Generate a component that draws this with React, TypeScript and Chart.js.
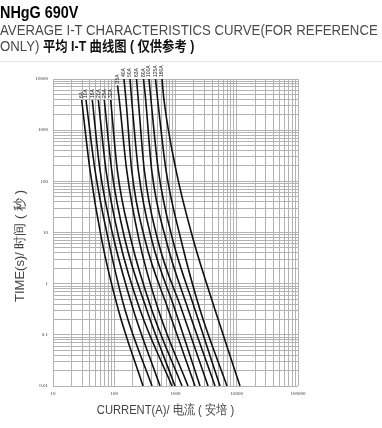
import React, { useEffect, useRef } from 'react';
import { Chart, registerables } from 'chart.js';

Chart.register(...registerables);

// ---- data ----
const ratingLabels = ['6A', '10A', '16A', '20A', '25A', '32A', '35A', '40A', '50A', '63A', '80A', '100A', '125A', '160A'];
// pre-arcing time rows (s) shared by all curves; null = curve has no point at that time
const timeRows = [10000, 7500, 3890, 166, 7.2, 0.31, 0.01];
const c6A = [null, null, 29.4, 40.2, 62.4, 116.5, 294.8];
const c10A = [null, null, 34.6, 48.5, 80, 149.8, 413.4];
const c16A = [null, null, 43.8, 58.5, 99, 204.6, 558.5];
const c20A = [null, null, 54.9, 73.3, 121, 263.3, 877];
const c25A = [null, null, 68.8, 90.9, 149.8, 338.7, 981];
const c32A = [null, null, 87.5, 112.2, 187.7, 408.7, 1277];
const c35A = [null, 113, 120.9, 159.7, 253.6, 524, 1600];
const c40A = [144, null, 155.5, 192.7, 317.7, 762.8, 2082];
const c50A = [180.7, null, 192.7, 247, 408.7, 981, 2512];
const c63A = [230.8, null, 247, 309.5, 512, 1262, 3394];
const c80A = [300.4, null, 326, 408.7, 699.6, 1618, 4415];
const c100A = [369, null, 398, 524, 900, 2082, 5326];
const c125A = [471.6, null, 512, 699.6, 1229, 2512, 6932];
const c160A = [602, null, 649, 1019, 1953, 4415, 11300];
const curveCurrents = [c6A, c10A, c16A, c20A, c25A, c32A, c35A, c40A, c50A, c63A, c80A, c100A, c125A, c160A];

const yTickLabels = ['0.01', '0.1', '1', '10', '100', '1000', '10000'];
const xTickLabels = ['10', '100', '1000', '10000', '100000'];

const xTitle = 'CURRENT(A)/ 电流 ( 安培 )';
const yTitle = 'TIME(s)/ 时间 ( 秒 )';

function logTicks(minExp: number, maxExp: number) {
  const out: { value: number }[] = [];
  for (let e = minExp; e < maxExp; e++) {
    for (let m = 1; m <= 9; m++) {
      out.push({ value: parseFloat((m * Math.pow(10, e)).toPrecision(6)) });
    }
  }
  out.push({ value: parseFloat(Math.pow(10, maxExp).toPrecision(6)) });
  return out;
}

function decadeIndex(v: number, minExp: number) {
  const l = Math.log10(v);
  const r = Math.round(l);
  if (Math.abs(l - r) < 1e-6) return r - minExp;
  return -1;
}

const annotate = {
  id: 'annotate',
  afterDraw(chart: any) {
    const ctx = chart.ctx;
    const area = chart.chartArea;
    ctx.save();
    ctx.font = '5px "Liberation Sans", Arial, sans-serif';
    ctx.fillStyle = '#222';
    ctx.textAlign = 'left';
    ctx.textBaseline = 'middle';
    chart.data.datasets.forEach((ds: any, i: number) => {
      const meta = chart.getDatasetMeta(i);
      const p = meta.data[0];
      if (!p) return;
      ctx.save();
      ctx.translate(p.x, p.y - 2);
      ctx.rotate(-Math.PI / 2);
      ctx.fillText(ratingLabels[i], 0, 0);
      ctx.restore();
    });
    ctx.font = '13px "Liberation Sans", Arial, sans-serif';
    ctx.fillStyle = '#444';
    ctx.textAlign = 'center';
    ctx.textBaseline = 'middle';
    ctx.save();
    ctx.translate(area.left + 112.5, area.bottom + 24);
    ctx.scale(0.86, 1);
    ctx.fillText(xTitle, 0, 0);
    ctx.restore();
    ctx.save();
    ctx.translate(area.left - 33, area.top + 167);
    ctx.rotate(-Math.PI / 2);
    ctx.fillText(yTitle, 0, 0);
    ctx.restore();
    ctx.restore();
  },
};

export default function App() {
  const ref = useRef<HTMLCanvasElement | null>(null);

  useEffect(() => {
    if (!ref.current) return;
    const datasets = curveCurrents.map((cur, i) => ({
      label: ratingLabels[i],
      data: timeRows
        .map((t, k) => (cur[k] == null ? null : { x: cur[k] as number, y: t }))
        .filter((p) => p !== null),
      borderColor: '#111',
      borderWidth: 1.6,
      pointRadius: 0,
      fill: false,
      cubicInterpolationMode: 'monotone' as const,
    }));

    const chart = new Chart(ref.current, {
      type: 'line',
      data: { datasets: datasets as any },
      plugins: [annotate],
      options: {
        responsive: false,
        animation: false,
        layout: { padding: { left: 0, right: 84, top: 79, bottom: 22 } },
        plugins: {
          legend: { display: false },
          tooltip: { enabled: false },
          title: { display: false },
        },
        scales: {
          x: {
            type: 'logarithmic',
            min: 10,
            max: 100000,
            afterBuildTicks: (s: any) => {
              s.ticks = logTicks(1, 5);
            },
            afterFit: (s: any) => {
              s.height = 20;
            },
            ticks: {
              autoSkip: false,
              maxRotation: 0,
              padding: 5,
              color: '#333',
              font: { size: 5, family: '"Liberation Serif", serif' },
              callback: (v: any) => {
                const i = decadeIndex(Number(v), 1);
                return i >= 0 ? xTickLabels[i] : '';
              },
            },
            grid: { color: '#b3b3b3', lineWidth: 1, drawTicks: false },
            border: { display: false },
          },
          y: {
            type: 'logarithmic',
            min: 0.01,
            max: 10000,
            afterBuildTicks: (s: any) => {
              s.ticks = logTicks(-2, 4);
            },
            afterFit: (s: any) => {
              s.width = 53;
            },
            ticks: {
              autoSkip: false,
              padding: 5,
              color: '#333',
              font: { size: 5, family: '"Liberation Serif", serif' },
              callback: (v: any) => {
                const i = decadeIndex(Number(v), -2);
                return i >= 0 ? yTickLabels[i] : '';
              },
            },
            grid: { color: '#b3b3b3', lineWidth: 1, drawTicks: false },
            border: { display: false },
          },
        },
      },
    });
    return () => chart.destroy();
  }, []);

  const sans = '"Liberation Sans", Arial, sans-serif';
  return (
    <div style={{ position: 'fixed', left: 0, top: 0, width: 382, height: 428, background: '#fff', overflow: 'hidden' }}>
      <canvas ref={ref} width={382} height={428} style={{ position: 'absolute', left: 0, top: 0, width: 382, height: 428 }} />
      <div style={{ position: 'absolute', left: 0, top: 5, fontFamily: sans, fontWeight: 700, fontSize: 16, lineHeight: '16px', color: '#000', whiteSpace: 'nowrap', transform: 'scaleX(0.9)', transformOrigin: 'left top' }}>
        NHgG 690V
      </div>
      <div style={{ position: 'absolute', left: 0, top: 22, fontFamily: sans, fontSize: 15, lineHeight: '15px', color: '#4a4a4a', whiteSpace: 'nowrap', transform: 'scaleX(0.88)', transformOrigin: 'left top' }}>
        AVERAGE I-T CHARACTERISTICS CURVE(FOR REFERENCE
      </div>
      <div style={{ position: 'absolute', left: 0, top: 38, fontFamily: sans, fontSize: 15, lineHeight: '15px', color: '#4a4a4a', whiteSpace: 'nowrap', transform: 'scaleX(0.88)', transformOrigin: 'left top' }}>
        ONLY) <span style={{ fontWeight: 700, fontSize: 14, color: '#111', fontFamily: '"Liberation Sans", "Noto Sans CJK SC", sans-serif' }}>平均 I-T 曲线图 ( 仅供参考 )</span>
      </div>
      <div style={{ position: 'absolute', left: 0, top: 61, width: 382, height: 1, background: '#e6e6e6' }} />
    </div>
  );
}
